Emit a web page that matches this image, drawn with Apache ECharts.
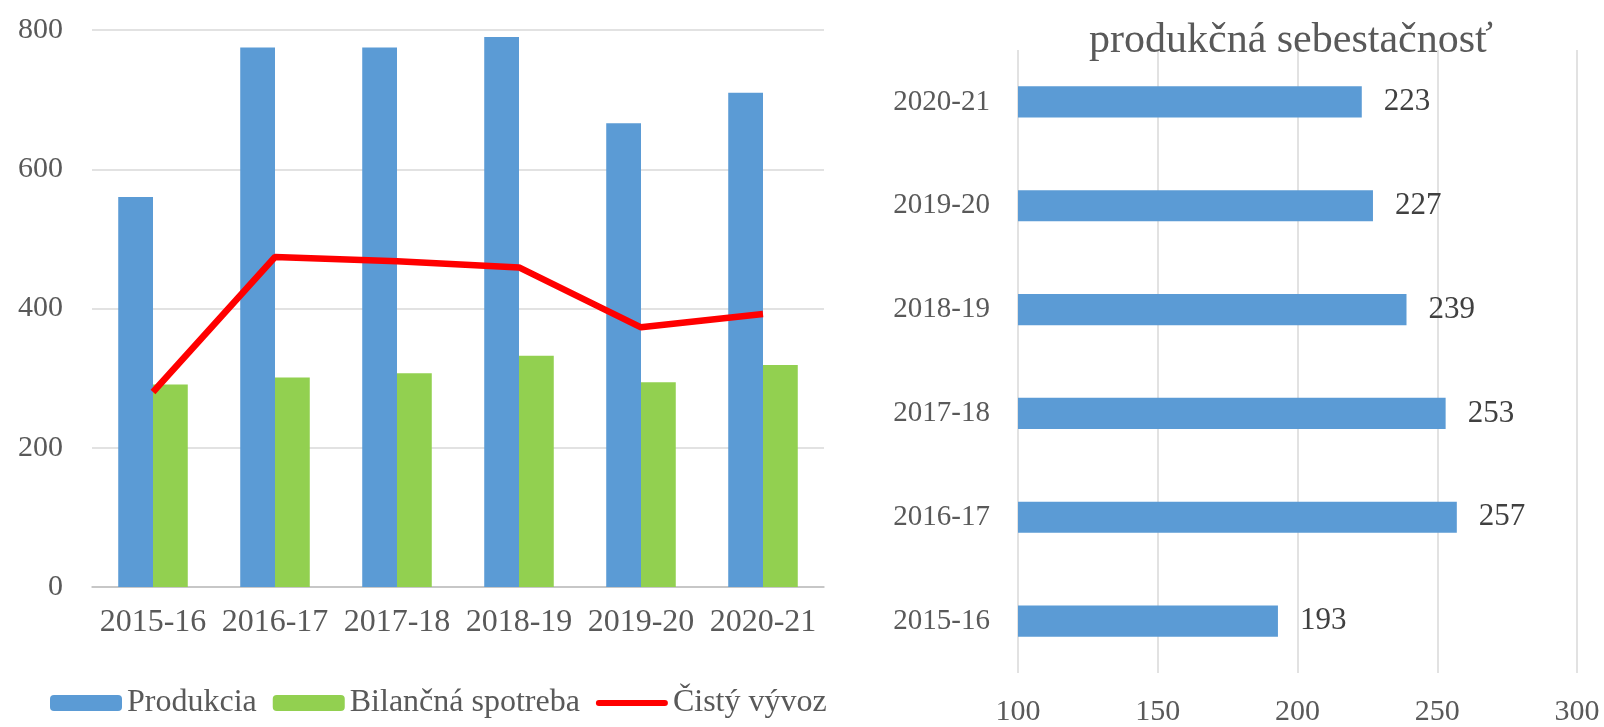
<!DOCTYPE html>
<html>
<head>
<meta charset="utf-8">
<script src="https://cdn.jsdelivr.net/npm/echarts@6/dist/echarts.min.js"></script>
<style>
  html, body { margin: 0; padding: 0; background: #fff; }
  #chart { width: 1604px; height: 727px; }
</style>
</head>
<body>
<div id="chart"></div>
<script>
// data
const years = ['2015-16', '2016-17', '2017-18', '2018-19', '2019-20', '2020-21']
const produkcia = [560, 775, 775, 790, 666, 710]
const spotreba = [291, 301, 307, 332, 294, 319]
const vyvoz = [280, 474, 468, 459, 373, 392]
const sebestacnost = [193, 257, 253, 239, 227, 223]

const font = 'Liberation Serif'
const txt = '#595959'

const chart = echarts.init(document.getElementById('chart'))
const option = {
  animation: false,
  textStyle: { fontFamily: font },
  title: {
    text: 'produkčná sebestačnosť',
    left: 1286,
    textAlign: 'center',
    top: 15,
    textStyle: { fontFamily: font, fontSize: 42, fontWeight: 'normal', color: txt }
  },
  legend: {
    left: 45,
    top: 682,
    itemWidth: 72,
    itemHeight: 16,
    itemGap: 16,
    textStyle: { fontFamily: font, fontSize: 32, color: txt },
    data: [
      'Produkcia',
      'Bilančná spotreba',
      // line icon without the dot
      { name: 'Čistý vývoz', icon: 'path://M3,0 L69,0 A3,3 0 0 1 69,6 L3,6 A3,3 0 0 1 3,0 Z' }
    ]
  },
  grid: [
    { left: 92, right: 780, top: 30, bottom: 140 },
    { left: 1018, right: 27, top: 50, bottom: 53 }
  ],
  xAxis: [
    {
      gridIndex: 0,
      type: 'category',
      data: years,
      axisLine: { lineStyle: { color: '#BFBFBF', width: 1.5 } },
      axisTick: { length: 8, lineStyle: { color: '#BFBFBF', width: 1.5 } },
      axisLabel: { interval: 0, fontFamily: font, fontSize: 32, color: txt, margin: 20 }
    },
    {
      gridIndex: 1,
      type: 'value',
      min: 100,
      max: 300,
      interval: 50,
      axisLine: { show: false },
      axisTick: { show: false },
      splitLine: { lineStyle: { color: '#D9D9D9', width: 1.5 } },
      axisLabel: { fontFamily: font, fontSize: 30, color: txt, margin: 24 }
    }
  ],
  yAxis: [
    {
      gridIndex: 0,
      type: 'value',
      min: 0,
      max: 800,
      interval: 200,
      axisLine: { show: false },
      axisTick: { show: false },
      splitLine: { lineStyle: { color: '#D9D9D9', width: 1.5 } },
      axisLabel: { fontFamily: font, fontSize: 30, color: txt, margin: 29 }
    },
    {
      gridIndex: 1,
      type: 'category',
      data: years,
      axisLine: { show: false },
      axisTick: { show: false },
      axisLabel: { fontFamily: font, fontSize: 29, color: txt, margin: 28 }
    }
  ],
  series: [
    {
      name: 'Produkcia',
      type: 'bar',
      xAxisIndex: 0,
      yAxisIndex: 0,
      barGap: '0%',
      barCategoryGap: '43%',
      itemStyle: { color: '#5B9BD5' },
      data: produkcia
    },
    {
      name: 'Bilančná spotreba',
      type: 'bar',
      xAxisIndex: 0,
      yAxisIndex: 0,
      itemStyle: { color: '#92D050' },
      data: spotreba
    },
    {
      name: 'Čistý vývoz',
      type: 'line',
      xAxisIndex: 0,
      yAxisIndex: 0,
      symbol: 'none',
      lineStyle: { color: '#FF0000', width: 6.5 },
      itemStyle: { color: '#FF0000' },
      data: vyvoz
    },
    {
      name: 'sebestačnosť',
      type: 'bar',
      xAxisIndex: 1,
      yAxisIndex: 1,
      barCategoryGap: '70%',
      itemStyle: { color: '#5B9BD5' },
      label: {
        show: true,
        position: 'right',
        distance: 22,
        fontFamily: font,
        fontSize: 31,
        color: '#404040'
      },
      data: sebestacnost
    }
  ]
}
chart.setOption(option)
</script>
</body>
</html>
